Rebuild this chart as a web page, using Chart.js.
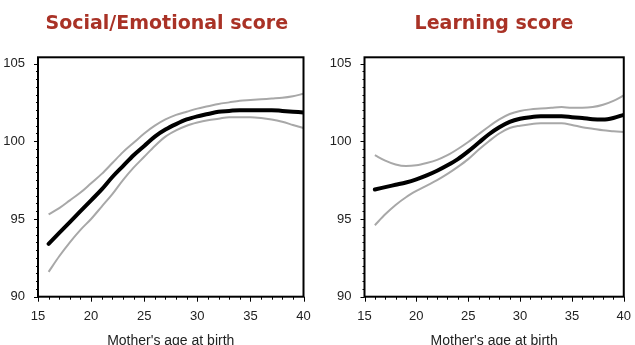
<!DOCTYPE html>
<html>
<head>
<meta charset="utf-8">
<script src="https://cdn.jsdelivr.net/npm/chart.js@4/dist/chart.umd.min.js"></script>
<style>
  html, body { margin: 0; padding: 0; background: #ffffff; }
  body { width: 635px; height: 345px; position: relative; overflow: hidden; }
  .panel { position: absolute; top: 0; height: 345px; }
  #p1 { left: 0; width: 318px; }
  #p2 { left: 318px; width: 317px; }
</style>
</head>
<body>
<div class="panel" id="p1"><canvas id="c1" width="318" height="345"></canvas></div>
<div class="panel" id="p2"><canvas id="c2" width="317" height="345"></canvas></div>
<script>
// ---- data ----
const ages = [16,17,18,19,20,21,22,23,24,25,26,27,28,29,30,31,32,33,34,35,36,37,38,39,40];

const socialTitle = "Social/Emotional score";
const socialMean  = [93.4,94.1,94.8,95.5,96.2,96.9,97.7,98.4,99.1,99.7,100.3,100.75,101.1,101.4,101.6,101.75,101.9,101.95,102.0,102.0,102.0,102.0,101.95,101.9,101.85];
const socialUpper = [95.3,95.7,96.2,96.7,97.3,97.9,98.6,99.3,99.9,100.5,101.0,101.4,101.7,101.9,102.1,102.25,102.4,102.5,102.6,102.65,102.7,102.75,102.8,102.9,103.05];
const socialLower = [91.6,92.6,93.5,94.3,95.0,95.8,96.6,97.5,98.3,99.0,99.7,100.3,100.7,101.0,101.2,101.35,101.45,101.55,101.55,101.55,101.5,101.4,101.25,101.05,100.85];

const learnTitle = "Learning score";
const learnMean  = [96.9,97.05,97.2,97.35,97.55,97.8,98.1,98.45,98.85,99.35,99.9,100.45,100.9,101.25,101.45,101.55,101.6,101.6,101.6,101.55,101.5,101.42,101.4,101.5,101.7];
const learnUpper = [99.1,98.75,98.5,98.4,98.45,98.6,98.8,99.1,99.5,99.95,100.45,100.95,101.4,101.75,101.95,102.05,102.1,102.15,102.2,102.15,102.15,102.2,102.35,102.6,102.95];
const learnLower = [94.6,95.3,95.9,96.4,96.8,97.15,97.5,97.9,98.35,98.85,99.45,100.0,100.5,100.85,101.0,101.1,101.15,101.15,101.15,101.05,100.9,100.8,100.7,100.65,100.6];

const xTickLabels = [15,20,25,30,35,40];
const yTickLabels = [90,95,100,105];
const xAxisTitle = "Mother's age at birth";

// ---- drawing ----
const frameAndTicks = {
  id: 'frameAndTicks',
  afterDraw(chart, args, opts) {
    const ctx = chart.ctx;
    const a = chart.chartArea;
    const xs = chart.scales.x, ys = chart.scales.y;
    ctx.save();
    ctx.strokeStyle = '#000';
    ctx.lineWidth = 1;
    ctx.beginPath();
    xs.ticks.forEach(t => {
      if (!Number.isInteger(t.value)) return;
      const px = Math.round(xs.getPixelForValue(t.value)) + 0.5;
      const len = xTickLabels.includes(t.value) ? 5 : 3;
      ctx.moveTo(px, a.bottom);
      ctx.lineTo(px, a.bottom + len);
    });
    ys.ticks.forEach(t => {
      if (!Number.isInteger(t.value * 2)) return;
      const py = Math.round(ys.getPixelForValue(t.value)) + 0.5;
      const len = yTickLabels.includes(t.value) ? 4 : 2;
      ctx.moveTo(a.left - len, py);
      ctx.lineTo(a.left, py);
    });
    ctx.stroke();
    ctx.lineWidth = 2;
    ctx.strokeRect(a.left, a.top, a.right - a.left, a.bottom - a.top);
    // panel title
    ctx.fillStyle = '#a93226';
    ctx.font = 'bold 19px "DejaVu Sans", Verdana, sans-serif';
    ctx.textAlign = 'center';
    ctx.textBaseline = 'middle';
    ctx.fillText(opts.text, opts.cx, 24);
    ctx.restore();
  }
};

function makeChart(id, title, titleCx, mean, upper, lower, yWidth, padRight) {
  const pts = arr => ages.map((a, i) => ({x: a, y: arr[i]}));
  const grey = '#a8a8a8';
  return new Chart(document.getElementById(id), {
    type: 'line',
    data: {
      datasets: [
        {data: pts(upper), borderColor: grey, borderWidth: 2, pointRadius: 0, cubicInterpolationMode: 'monotone'},
        {data: pts(lower), borderColor: grey, borderWidth: 2, pointRadius: 0, cubicInterpolationMode: 'monotone'},
        {data: pts(mean), borderColor: '#000', borderWidth: 4, pointRadius: 0, cubicInterpolationMode: 'monotone', borderCapStyle: 'round'}
      ]
    },
    options: {
      responsive: false,
      animation: false,
      events: [],
      layout: {padding: {top: 57.3, right: padRight, left: 0, bottom: 0}},
      plugins: {
        legend: {display: false},
        tooltip: {enabled: false},
        title: {display: false},
        frameAndTicks: {text: title, cx: titleCx}
      },
      scales: {
        x: {
          type: 'linear', min: 15, max: 40,
          grid: {display: false},
          border: {display: false},
          ticks: {
            stepSize: 1, autoSkip: false, maxRotation: 0, padding: 4, includeBounds: false,
            color: '#222', font: {family: '"Liberation Sans", Arial, sans-serif', size: 13},
            callback: v => xTickLabels.includes(v) ? String(v) : ''
          },
          title: {
            display: true, text: xAxisTitle, color: '#222',
            font: {family: '"Liberation Sans", Arial, sans-serif', size: 14},
            padding: {top: 0, bottom: -5}
          },
          afterFit: s => { s.height = 48.3; }
        },
        y: {
          type: 'linear', min: 90, max: 105.4,
          grid: {display: false},
          border: {display: false},
          ticks: {
            stepSize: 0.5, autoSkip: false, padding: 5, includeBounds: false,
            color: '#222', font: {family: '"Liberation Sans", Arial, sans-serif', size: 13},
            callback: v => yTickLabels.includes(v) ? String(v) : ''
          },
          afterFit: s => { s.width = yWidth; }
        }
      }
    },
    plugins: [frameAndTicks]
  });
}

makeChart('c1', socialTitle, 166.8, socialMean, socialUpper, socialLower, 38, 14.5);
makeChart('c2', learnTitle, 176, learnMean, learnUpper, learnLower, 46.5, 5.5);
</script>
</body>
</html>
